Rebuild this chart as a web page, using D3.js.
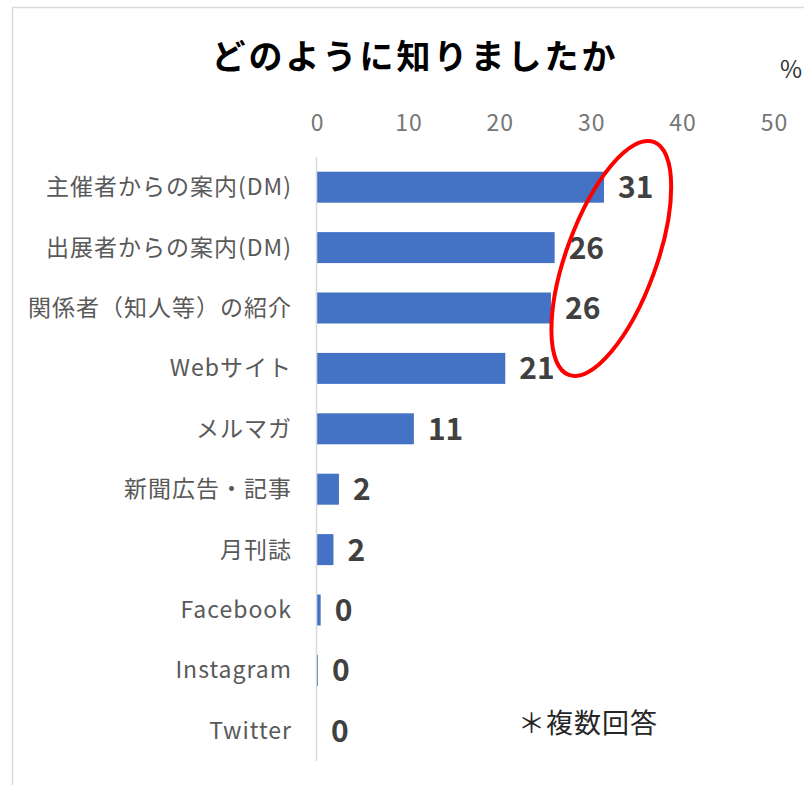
<!DOCTYPE html>
<html>
<head>
<meta charset="utf-8">
<script src="https://cdn.jsdelivr.net/npm/d3@7"></script>
<style>
  body { margin: 0; background: #fff; }
  svg { display: block; font-family: "Noto Sans CJK JP", "Noto Sans", sans-serif; }
</style>
</head>
<body>
<svg id="chart" width="804" height="785"></svg>
<script>
const categories = ["主催者からの案内(DM)", "出展者からの案内(DM)", "関係者（知人等）の紹介", "Webサイト",
  "メルマガ", "新聞広告・記事", "月刊誌", "Facebook", "Instagram", "Twitter"];
const percents = [31.4, 26.0, 25.6, 20.6, 10.6, 2.4, 1.8, 0.4, 0.1, 0.0];
const xTicks = [0, 10, 20, 30, 40, 50];

const svg = d3.select("#chart");

// chart frame
svg.append("rect")
  .attr("x", 12.5).attr("y", 7.5)
  .attr("width", 900).attr("height", 900)
  .attr("fill", "none")
  .attr("stroke", "#d9d9d9")
  .attr("stroke-width", 1.5);

const scale = {
  x: d3.scaleLinear().domain([0, 50]).range([317, 774]),
  y: d3.scaleBand().domain(categories).range([157, 761]).paddingInner(0.487).paddingOuter(0.2435)
};

// title
svg.append("text")
  .attr("x", 415).attr("y", 54)
  .attr("text-anchor", "middle")
  .attr("dominant-baseline", "central")
  .attr("font-size", 34)
  .attr("font-weight", "bold")
  .attr("letter-spacing", 3)
  .attr("fill", "#000")
  .text("どのように知りましたか");

svg.append("text")
  .attr("x", 791).attr("y", 67)
  .attr("text-anchor", "middle")
  .attr("dominant-baseline", "central")
  .attr("font-size", 24)
  .attr("fill", "#333")
  .text("%");

// top axis, labels only
const xAxis = svg.append("g")
  .attr("transform", "translate(0,121)")
  .call(d3.axisTop(scale.x).tickValues(xTicks).tickSize(0).tickPadding(0))
  .attr("font-family", null)
  .attr("font-size", null);
xAxis.select(".domain").remove();
xAxis.selectAll("text")
  .attr("dy", null)
  .attr("dominant-baseline", "central")
  .attr("font-size", 23)
  .attr("letter-spacing", 1)
  .attr("fill", "#767676");

// category labels
const yAxis = svg.append("g")
  .attr("transform", "translate(292,-2)")
  .call(d3.axisLeft(scale.y).tickSize(0).tickPadding(0))
  .attr("font-family", null)
  .attr("font-size", null);
yAxis.select(".domain").remove();
yAxis.selectAll("text")
  .attr("dy", null)
  .attr("dominant-baseline", "central")
  .attr("font-size", 23)
  .attr("letter-spacing", 1)
  .attr("fill", "#595959");

// bars
svg.selectAll(".bar")
  .data(categories)
  .enter()
  .append("rect")
  .attr("class", "bar")
  .attr("x", scale.x(0))
  .attr("y", d => scale.y(d))
  .attr("width", (d, i) => scale.x(percents[i]) - scale.x(0))
  .attr("height", scale.y.bandwidth())
  .attr("fill", "#4472c4");

// vertical axis line
svg.append("line")
  .attr("x1", scale.x(0) - 0.5).attr("x2", scale.x(0) - 0.5)
  .attr("y1", scale.y.range()[0]).attr("y2", scale.y.range()[1])
  .attr("stroke", "#d9d9d9")
  .attr("stroke-width", 1.5);

// value labels
svg.selectAll(".value")
  .data(categories)
  .enter()
  .append("text")
  .attr("class", "value")
  .attr("x", (d, i) => scale.x(percents[i]) + 14)
  .attr("y", d => scale.y(d) + scale.y.bandwidth() / 2 - 2)
  .attr("dominant-baseline", "central")
  .attr("font-size", 30)
  .attr("font-weight", "bold")
  .attr("fill", "#404040")
  .text((d, i) => Math.round(percents[i]));

// red highlight around the top three
const ringCx = scale.x(32.2);
const ringCy = scale.y(categories[1]) + scale.y.bandwidth() * 0.85;
svg.append("ellipse")
  .attr("cx", ringCx).attr("cy", ringCy)
  .attr("rx", 45).attr("ry", 124)
  .attr("transform", `rotate(20,${ringCx},${ringCy})`)
  .attr("fill", "none")
  .attr("stroke", "#ff0000")
  .attr("stroke-width", 4);

// note
svg.append("text")
  .attr("x", 518).attr("y", 721)
  .attr("dominant-baseline", "central")
  .attr("font-size", 27)
  .attr("letter-spacing", 1)
  .attr("fill", "#262626")
  .text("＊複数回答");
</script>
</body>
</html>
